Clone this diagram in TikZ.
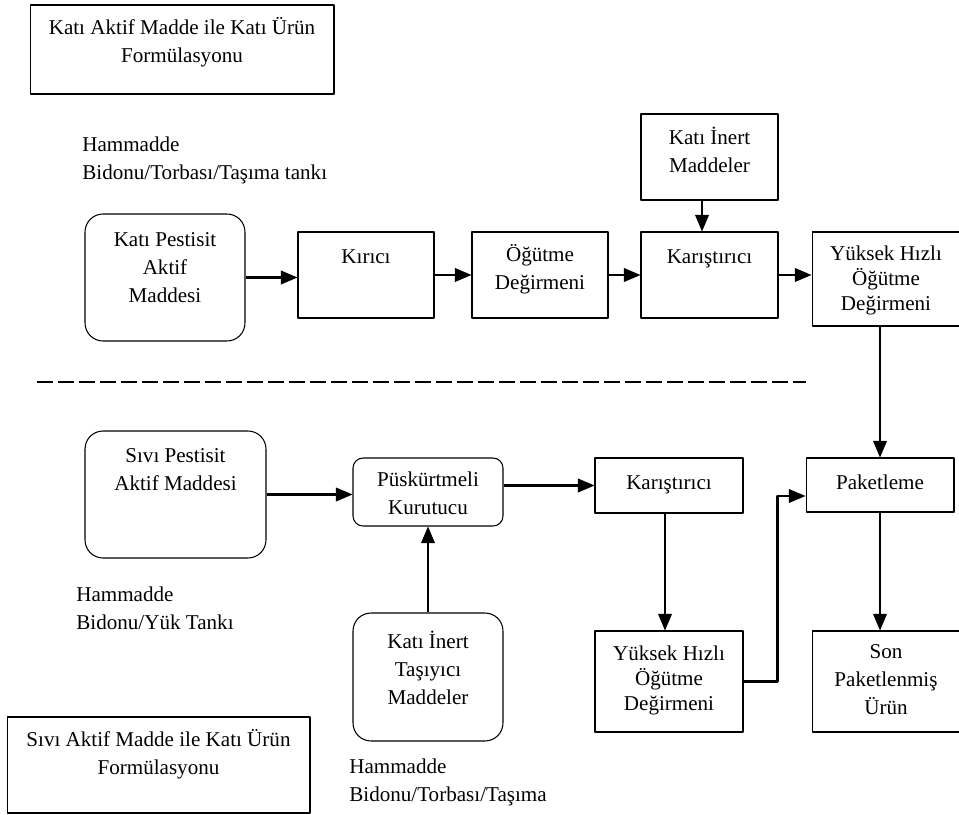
\documentclass[tikz,border=0pt]{standalone}
\usepackage{fontspec}
\setmainfont{Liberation Serif}
\usepackage{tikz}
\usetikzlibrary{arrows}

\begin{document}
\begin{tikzpicture}[line join=round,>=triangle 45,x=0.02cm,y=-0.02cm,
    font=\fontsize{12}{15.9}\selectfont,
    box/.style={draw,line width=0.6pt,inner sep=0pt},
    rbox/.style={box,rounded corners=0.36cm},
    lab/.style={anchor=north,inner sep=0pt,yshift=#1,align=center,execute at begin node=\strut},
    lab/.default=-0.25cm,
    sik/.style={font=\fontsize{12}{14.2}\selectfont},
    hamtext/.style={anchor=north west,inner sep=0pt,align=left,execute at begin node=\strut},
    arr/.style={->,line width=1.2pt}]
      \useasboundingbox (0,0) rectangle (959,814);

      % kati aktif madde
      \node[box,minimum width=6.08cm,minimum height=1.78cm,
        label={[lab]north:Katı Aktif Madde ile Katı Ürün\\Formülasyonu}] (baslik1) at (182,49.5) {};
      \node[hamtext] (ham1) at (82,137) {Hammadde\\Bidonu/Torbası/Taşıma tankı};

      \node[rbox,minimum width=3.2cm,minimum height=2.54cm,
        label={[lab=-0.37cm]north:Katı Pestisit\\Aktif\\Maddesi}] (katipest) at (165,277.5) {};
      \node[box,minimum width=2.72cm,minimum height=1.72cm,
        label={[lab]north:Kırıcı}] (kirici) at (366,275) {};
      \node[box,minimum width=2.72cm,minimum height=1.72cm,
        label={[lab]north:Öğütme\\Değirmeni}] (ogutme) at (540,275) {};
      \node[box,minimum width=2.74cm,minimum height=1.72cm,
        label={[lab=-0.27cm]north:Katı İnert\\Maddeler}] (inert) at (709.5,157) {};
      \node[box,minimum width=2.74cm,minimum height=1.72cm,
        label={[lab]north:Karıştırıcı}] (karis) at (709.5,275) {};
      \node[box,minimum width=2.96cm,minimum height=1.88cm,
        label={[lab=-0.29cm,sik]north:Yüksek Hızlı\\Öğütme\\Değirmeni}] (yh1) at (886,279) {};

      \draw[arr] (katipest.east) -- (katipest.east -| kirici.west);
      \draw[arr] (kirici.east) -- (kirici.east -| ogutme.west);
      \draw[arr] (ogutme.east) -- (ogutme.east -| karis.west);
      \draw[arr] ([xshift=-0.15cm]inert.south) -- ([xshift=-0.15cm]karis.north);
      \draw[arr] (karis.east) -- (karis.east -| yh1.west);

      \draw[line width=1.4pt,dash pattern=on 0.314cm off 0.106cm] (37,382) -- (806,382);

      % sivi aktif madde
      \node[rbox,minimum width=3.62cm,minimum height=2.54cm,
        label={[lab=-0.35cm]north:Sıvı Pestisit\\Aktif Maddesi}] (sivipest) at (175.5,494.5) {};
      \node[hamtext] (ham2) at (76,587) {Hammadde\\Bidonu/Yük Tankı};
      \node[box,rounded corners=0.2cm,minimum width=3cm,minimum height=1.36cm,
        label={[lab=-0.28cm]north:Püskürtmeli\\Kurutucu}] (pusk) at (428,492) {};
      \node[rbox,minimum width=3cm,minimum height=2.56cm,
        label={[lab=-0.37cm]north:Katı İnert\\Taşıyıcı\\Maddeler}] (inert2) at (428,677) {};
      \node[hamtext] (ham3) at (349,759) {Hammadde\\Bidonu/Torbası/Taşıma};
      \node[box,minimum width=2.96cm,minimum height=1.1cm,
        label={[lab]north:Karıştırıcı}] (karis2) at (669,485.5) {};
      \node[box,minimum width=2.96cm,minimum height=2.02cm,
        label={[lab=-0.3cm,sik]north:Yüksek Hızlı\\Öğütme\\Değirmeni}] (yh2) at (669,681.5) {};
      \node[box,minimum width=2.96cm,minimum height=1.08cm,
        label={[lab]north:Paketleme}] (paket) at (880,485) {};
      \node[box,minimum width=2.96cm,minimum height=2.02cm,
        label={[lab=-0.27cm]north:Son\\Paketlenmiş\\Ürün}] (son) at (886,681.5) {};
      \node[box,minimum width=6.06cm,minimum height=1.92cm,
        label={[lab]north:Sıvı Aktif Madde ile Katı Ürün\\Formülasyonu}] (baslik2) at (158.5,765) {};

      \draw[arr] (sivipest.east) -- (sivipest.east -| pusk.west);
      \draw[arr] (pusk.east |- karis2.west) -- (karis2.west);
      \draw[arr] (inert2.north) -- (pusk.south);
      \draw[arr] ([xshift=-0.08cm]karis2.south) -- ([xshift=-0.08cm]yh2.north);
      \draw[arr] (yh2.east) -- ++(34,0) |- ([yshift=-0.22cm]paket.west);
      \draw[arr] (yh1.south -| paket.north) -- (paket.north);
      \draw[arr] (paket.south) -- (paket.south |- son.north);
    \end{tikzpicture}
\end{document}
